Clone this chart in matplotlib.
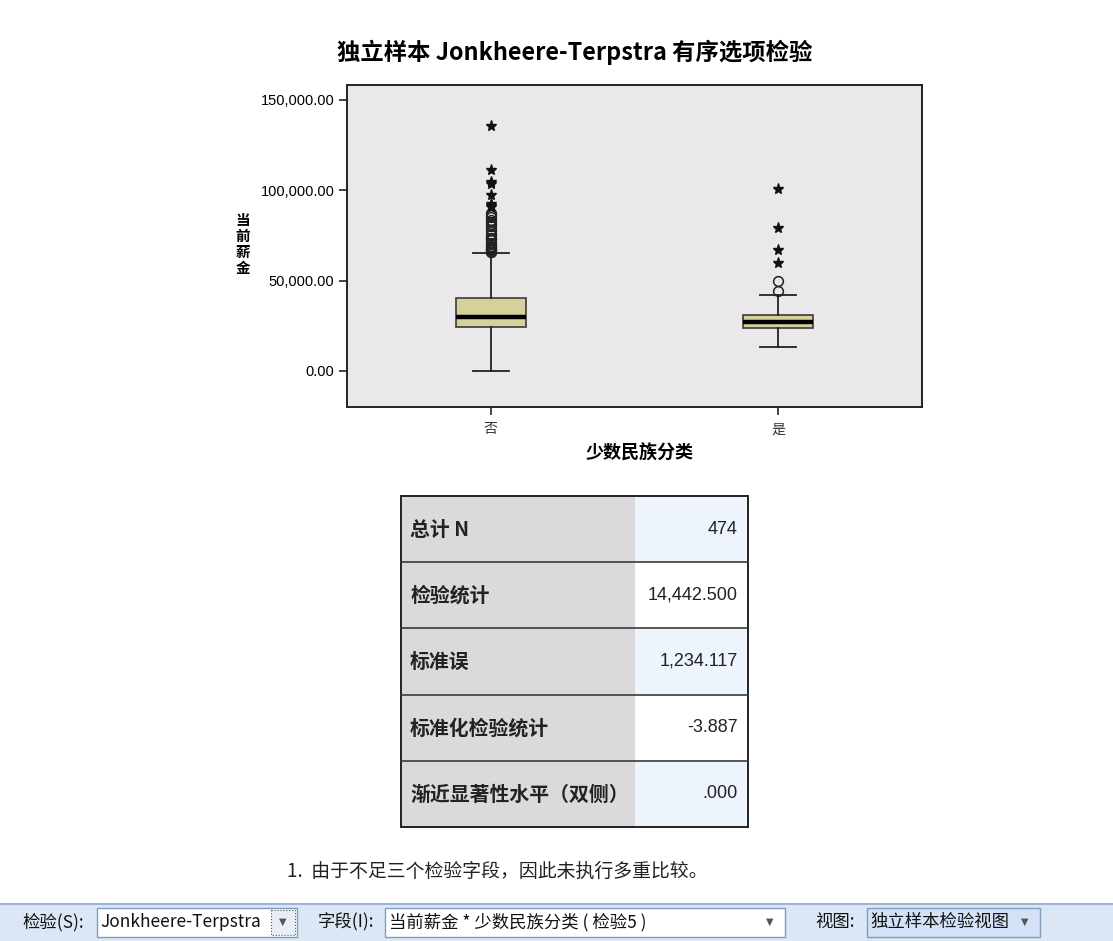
import matplotlib
matplotlib.use("Agg")
import matplotlib.pyplot as plt
from matplotlib.patches import Rectangle
from matplotlib.ticker import FuncFormatter

plt.rcParams["font.family"] = ["Noto Sans CJK SC", "DejaVu Sans"]

# ---- data ----
categories = ["否", "是"]
q1 = [24200, 23650]
median = [30050, 26950]
q3 = [40250, 30850]
whisker_low = [0, 13450]
whisker_high = [65150, 42100]
outliers_circle = [
    [65600, 66000, 66750, 66875, 67500, 68125, 68750, 69250, 70000, 70875,
     72500, 73500, 73750, 75000, 75750, 78125, 78250, 80000, 81250, 82500,
     83750, 85000, 86250, 87500],
    [44450, 49800],
]
outliers_star = [
    [135800, 111300, 104500, 103750, 97450, 92300, 91250, 90600],
    [100600, 79000, 66800, 59800],
]
yticks = [0, 50000, 100000, 150000]

table_labels = ["总计 N", "检验统计", "标准误", "标准化检验统计", "渐近显著性水平（双侧）"]
table_values = ["474", "14,442.500", "1,234.117", "-3.887", ".000"]

footnote = "1.  由于不足三个检验字段，因此未执行多重比较。"
title = "独立样本 Jonkheere-Terpstra 有序选项检验"

W, H = 1113, 941
fig = plt.figure(figsize=(W / 100, H / 100), dpi=100)
fig.patch.set_facecolor("white")

def px_axes(x0, y0, x1, y1):
    return fig.add_axes([x0 / W, 1 - y1 / H, (x1 - x0) / W, (y1 - y0) / H])

# ---- box plot ----
ax = px_axes(347, 85, 922, 407)
ax.set_facecolor("#EBE8EC")
stats = []
for i in range(len(categories)):
    stats.append(dict(med=median[i], q1=q1[i], q3=q3[i],
                      whislo=whisker_low[i], whishi=whisker_high[i],
                      fliers=outliers_circle[i], label=categories[i]))
pos = list(range(len(categories)))
ax.bxp(stats, positions=pos, widths=0.245, capwidths=0.125, patch_artist=True,
       boxprops=dict(facecolor="#D6D09A", edgecolor="#3a3a3a", linewidth=1.2),
       medianprops=dict(color="black", linewidth=3.2),
       whiskerprops=dict(color="#222222", linewidth=1.3),
       capprops=dict(color="#222222", linewidth=1.3),
       flierprops=dict(marker="o", markerfacecolor="none", markeredgecolor="#222222",
                       markersize=7, markeredgewidth=1.1))
for i, s in enumerate(outliers_star):
    ax.plot([pos[i]] * len(s), s, linestyle="none", marker="*", color="#111111",
            markersize=8)

ax.set_xlim(-0.5, 1.5)
ax.set_ylim(-20000, 158300)
ax.set_yticks(yticks)
ax.yaxis.set_major_formatter(FuncFormatter(lambda v, p: f"{v:,.2f}"))
for lab in ax.get_yticklabels():
    lab.set_family(["Liberation Sans", "DejaVu Sans"])
    lab.set_fontsize(10.5)
ax.set_xticks(pos)
ax.set_xticklabels(categories, fontsize=10, color="#333333")
ax.tick_params(axis="both", direction="out", length=6, width=1.2, color="#222222")
ax.tick_params(axis="y", pad=3)
ax.tick_params(axis="x", pad=5)
for sp in ax.spines.values():
    sp.set_linewidth(1.4)
    sp.set_color("#222222")

fig.text(575 / W, 1 - 52 / H, title, ha="center", va="center", fontsize=16.8,
         fontweight="bold")
fig.text(640 / W, 1 - 453 / H, "少数民族分类", ha="center", va="center",
         fontsize=13, fontweight="bold")
fig.text(243 / W, 1 - 244 / H, "当\n前\n薪\n金", ha="center", va="center",
         fontsize=10.5, fontweight="bold", linespacing=1.0)

# ---- overlay for table + toolbar (pixel coordinates) ----
ov = fig.add_axes([0, 0, 1, 1], zorder=-1)
ov.set_xlim(0, W)
ov.set_ylim(H, 0)
ov.axis("off")

tx0, tx1, tsplit = 401, 748, 635
ty0, row_h = 496, 66.2
for i, (lab, val) in enumerate(zip(table_labels, table_values)):
    y = ty0 + i * row_h
    ov.add_patch(Rectangle((tx0, y), tsplit - tx0, row_h, facecolor="#DCD9DC",
                           edgecolor="none"))
    ov.add_patch(Rectangle((tsplit, y), tx1 - tsplit, row_h,
                           facecolor="#EDF4FC" if i % 2 == 0 else "white",
                           edgecolor="none"))
    if i > 0:
        ov.plot([tx0, tx1], [y, y], color="#3a3a3a", linewidth=1.2)
    ov.text(410, y + row_h / 2, lab, ha="left", va="center", fontsize=14.3,
            fontweight="bold", color="#222222")
    ov.text(738, y + row_h / 2, val, ha="right", va="center", fontsize=13,
            family=["Liberation Sans", "DejaVu Sans"], color="#222222")
ov.add_patch(Rectangle((tx0, ty0), tx1 - tx0, row_h * len(table_labels),
                       facecolor="none", edgecolor="#222222", linewidth=1.4))

ov.text(287, 871, footnote, ha="left", va="center", fontsize=13.6, color="#222222")

# ---- toolbar ----
ov.add_patch(Rectangle((0, 904), W, 37, facecolor="#DCE7F6", edgecolor="none"))
ov.plot([0, W], [904, 904], color="#9DB5DA", linewidth=1.5)
tb_y = 922
tb_font = dict(fontsize=12.5, va="center", color="#111111")
ov.text(22, tb_y, "检验(S):", ha="left", **tb_font)
ov.add_patch(Rectangle((97, 908), 200, 29, facecolor="white", edgecolor="#7F9DB9",
                       linewidth=1))
ov.text(100, tb_y, "Jonkheere-Terpstra", ha="left", **tb_font)
ov.add_patch(Rectangle((271, 910), 24, 25, facecolor="#E8EEF7", edgecolor="#555555",
                       linewidth=0.8, linestyle=":"))
ov.text(283, tb_y, "▼", ha="center", fontsize=7, va="center", color="#555555",
        family="DejaVu Sans")
ov.text(318, tb_y, "字段(I):", ha="left", **tb_font)
ov.add_patch(Rectangle((385, 908), 400, 29, facecolor="white", edgecolor="#7F9DB9",
                       linewidth=1))
ov.text(389, tb_y, "当前薪金 * 少数民族分类 ( 检验5 )", ha="left", **tb_font)
ov.text(770, tb_y, "▼", ha="center", fontsize=7, va="center", color="#555555",
        family="DejaVu Sans")
ov.text(815, tb_y, "视图:", ha="left", **tb_font)
ov.add_patch(Rectangle((867, 908), 173, 29, facecolor="#D3E2F6", edgecolor="#7F9DB9",
                       linewidth=1))
ov.text(870, tb_y, "独立样本检验视图", ha="left", **tb_font)
ov.text(1025, tb_y, "▼", ha="center", fontsize=7, va="center", color="#555555",
        family="DejaVu Sans")

fig.savefig("out.png", dpi=100, facecolor="white")
